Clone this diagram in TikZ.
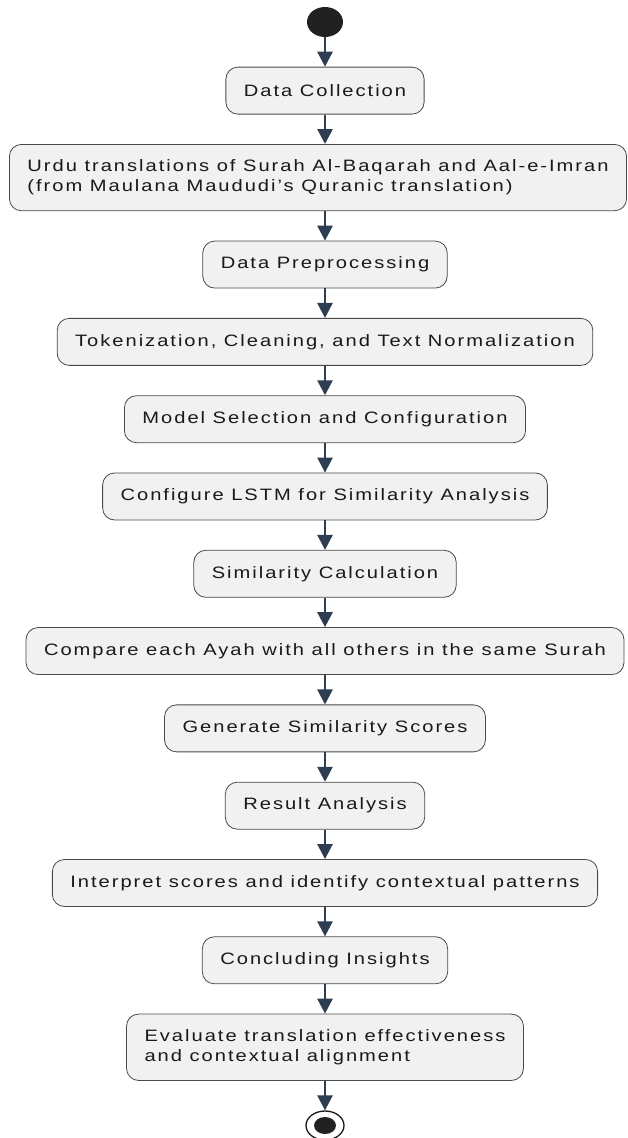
\documentclass[tikz,border=0pt]{standalone}
\usepackage{fontspec}
\setmainfont{Liberation Sans}[FakeStretch=1.22, LetterSpace=12]
\usetikzlibrary{positioning, arrows.meta, shapes.geometric}

\definecolor{flowline}{HTML}{2C3E50}
\definecolor{boxfill}{HTML}{F1F1F1}
\definecolor{boxline}{HTML}{4A4A4A}

\begin{document}
\begin{tikzpicture}[
  x=1pt, y=1pt,
  node distance=29.5pt,
  font=\fontsize{16.5}{20}\selectfont,
  >={Triangle[length=15pt, width=15pt]},
  act/.style  = {draw=boxline, fill=boxfill, rounded corners=12pt, line width=0.8pt,
                 minimum height=47pt, inner xsep=18pt, inner ysep=15.5pt, text=black!90},
  actl/.style = {act, align=left},
  flow/.style = {->, draw=flowline, line width=2.6pt},
]
  \useasboundingbox (0,0) rectangle (628,-1138);

  \node[ellipse, fill=black!87, minimum width=36pt, minimum height=30pt, inner sep=0pt]
        (start) at (325,-22) {};

  \node[act,  below=of start]                (collect)   {Data Collection};
  \node[actl, below=of collect, xshift=-7pt] (urdu)      {Urdu translations of Surah Al-Baqarah and Aal-e-Imran\\(from Maulana Maududi's Quranic translation)};
  \node[act,  below=of urdu.south -| collect] (prep)     {Data Preprocessing};
  \node[act,  below=of prep]                 (token)     {Tokenization, Cleaning, and Text Normalization};
  \node[act,  below=of token]                (modelsel)  {Model Selection and Configuration};
  \node[act,  below=of modelsel]             (lstm)      {Configure LSTM for Similarity Analysis};
  \node[act,  below=of lstm]                 (simcalc)   {Similarity Calculation};
  \node[act,  below=of simcalc]              (compare)   {Compare each Ayah with all others in the same Surah};
  \node[act,  below=of compare]              (scores)    {Generate Similarity Scores};
  \node[act,  below=of scores]               (result)    {Result Analysis};
  \node[act,  below=of result]               (interpret) {Interpret scores and identify contextual patterns};
  \node[act,  below=of interpret]            (insights)  {Concluding Insights};
  \node[actl, below=of insights]             (evaluate)  {Evaluate translation effectiveness\\and contextual alignment};

  \node[ellipse, draw=black!90, line width=1.3pt, fill=white, minimum width=38pt,
        minimum height=29pt, inner sep=0pt, below=of evaluate] (stop) {};
  \fill[black!87] (stop.center) ellipse (11pt and 8.5pt);

  % control flow, top to bottom
  \draw[flow] (start)   -- (collect);
  \draw[flow] (collect) -- (collect |- urdu.north);
  \draw[flow] (urdu.south -| prep) -- (prep);
  \draw[flow] (prep)      -- (token);
  \draw[flow] (token)     -- (modelsel);
  \draw[flow] (modelsel)  -- (lstm);
  \draw[flow] (lstm)      -- (simcalc);
  \draw[flow] (simcalc)   -- (compare);
  \draw[flow] (compare)   -- (scores);
  \draw[flow] (scores)    -- (result);
  \draw[flow] (result)    -- (interpret);
  \draw[flow] (interpret) -- (insights);
  \draw[flow] (insights)  -- (evaluate);
  \draw[flow] (evaluate)  -- (stop);
\end{tikzpicture}
\end{document}
